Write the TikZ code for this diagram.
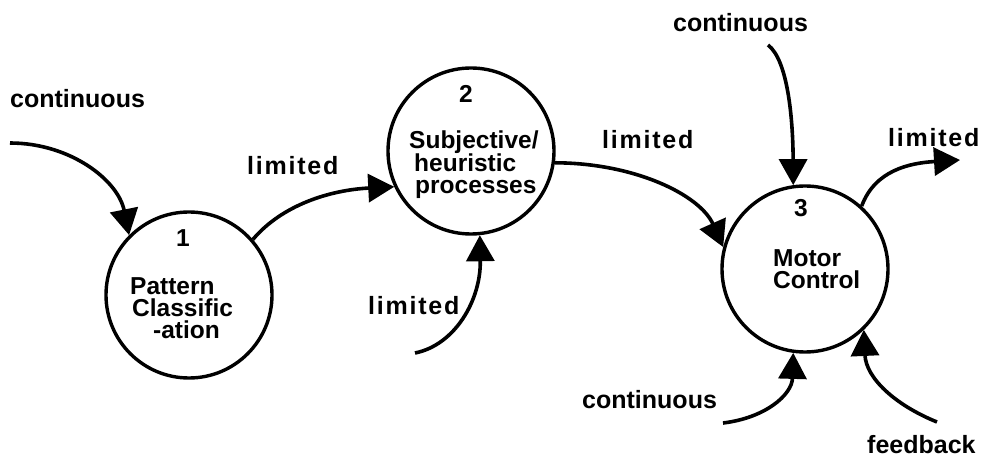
\documentclass[tikz,border=0pt]{standalone}
\usepackage{fontspec}
\setmainfont{Liberation Sans}
\newfontfamily\widefont{Liberation Sans}[LetterSpace=7]
\usetikzlibrary{arrows.meta}
\begin{document}
\begin{tikzpicture}[x=1pt,y=-1pt,
  proc/.style={circle, draw, line width=3.4pt, minimum size=166pt, inner sep=0pt},
  flow/.style={line width=3.6pt, -{Triangle[length=26pt,width=28pt]}},
  lbl/.style={anchor=base west, inner sep=0pt, font=\fontsize{25}{25}\selectfont\bfseries},
  wlbl/.style={lbl, font=\widefont\fontsize{25}{25}\selectfont\bfseries},
  txt/.style={anchor=base west, inner sep=0pt, align=left,
    font=\fontsize{24.5}{22}\selectfont\bfseries},
  num/.style={anchor=base, inner sep=0pt, font=\fontsize{24.5}{24.5}\selectfont\bfseries}]
\useasboundingbox (0,0) rectangle (985,462);

% processes
\node[proc] (c1) at (189,295) {};
\node[proc] (c2) at (471,151) {};
\node[proc] (c3) at (805,269) {};

% process numbers and names (anchored on the last line)
\node[num] (n1) at (183,247) {1};
\node[txt] (t1) at (130,338) {Pattern\\\hspace*{2pt}Classific\\\hspace*{23pt}-ation};

\node[num] (n2) at (466,103) {2};
\node[txt] (t2) at (409,194) {Subjective/\\\hspace*{5pt}heuristic\\\hspace*{6pt}processes};

\node[num] (n3) at (801,217) {3};
\node[txt] (t3) at (773,289) {Motor\\Control};

% flow labels
\node[lbl] (l1) at (10,108) {continuous};
\node[wlbl] (l2) at (247,175) {limited};
\node[wlbl] (l3) at (368,315) {limited};
\node[wlbl] (l4) at (602,149) {limited};
\node[lbl] (l5) at (673,32) {continuous};
\node[wlbl] (l6) at (888,147) {limited};
\node[lbl] (l7) at (582,408) {continuous};
\node[lbl] (l8) at (867,453) {feedback};

% free ends of the flows
\coordinate (s1) at (10,143);
\coordinate (s3) at (415,353);
\coordinate (s5) at (768,45);
\coordinate (e6) at (960,160);
\coordinate (s7) at (723,423);
\coordinate (s8) at (937,422);

% flows
\draw[flow] (s1) .. controls (70,143) and (118,180) .. (c1.135);
\draw[flow] (c1.41) .. controls (282,205) and (330,190) .. (c2.205);
\draw[flow] (s3) .. controls (455,345) and (481,300) .. (c2.276);
\draw[flow] (c2.352) .. controls (635,163) and (700,195) .. (c3.165);
\draw[flow] (s5) .. controls (788,60) and (793,120) .. (c3.98);
\draw[flow] (c3.48) .. controls (875,170) and (910,163) .. (e6);
\draw[flow] (s7) .. controls (765,418) and (792,395) .. (c3.262);
\draw[flow] (s8) .. controls (895,405) and (866,378) .. (c3.314);
\end{tikzpicture}
\end{document}
